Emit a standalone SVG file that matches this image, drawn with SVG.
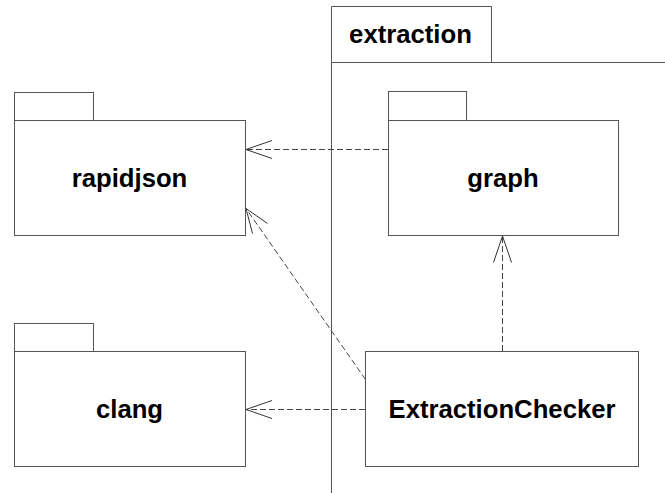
<svg xmlns="http://www.w3.org/2000/svg" width="665" height="493" viewBox="0 0 665 493">
<style>
.box{fill:#fff;stroke:#555;stroke-width:1}
.lbl{font-family:"Liberation Sans",Arial,sans-serif;font-weight:bold;font-size:25.7px;fill:#000;text-anchor:middle}
.dep{fill:none;stroke:#444;stroke-width:1;stroke-dasharray:6,3}
.head{fill:none;stroke:#333;stroke-width:1}
</style>
<rect width="665" height="493" fill="#fff"/>
<g id="extraction">
<path class="box" d="M331.5,493 V62.5 H666 M331.5,62.5 V6.5 H491.5 V62.5"/>
<text class="lbl" x="410.5" y="43">extraction</text>
</g>
<g id="rapidjson">
<rect class="box" x="14.5" y="92.5" width="79" height="28"/>
<rect class="box" x="14.5" y="120.5" width="231" height="115"/>
<text class="lbl" x="129.5" y="187">rapidjson</text>
</g>
<g id="clang">
<rect class="box" x="14.5" y="323.5" width="79" height="28"/>
<rect class="box" x="14.5" y="351.5" width="231" height="115"/>
<text class="lbl" x="129.5" y="418">clang</text>
</g>
<g id="graph">
<rect class="box" x="388.5" y="91.5" width="78" height="29"/>
<rect class="box" x="388.5" y="120.5" width="230" height="115"/>
<text class="lbl" x="503" y="187">graph</text>
</g>
<g id="ExtractionChecker">
<rect class="box" x="365.5" y="351.5" width="273" height="115"/>
<text class="lbl" x="502" y="418">ExtractionChecker</text>
</g>
<g id="connectors">
<line class="dep" x1="388" y1="149.5" x2="246" y2="149.5"/>
<polyline class="head" points="272,140.5 246,149.5 272,158.5"/>
<line class="dep" x1="365.5" y1="379.5" x2="246" y2="208.5"/>
<polyline class="head" points="267.5,223.5 246,208.5 252.5,233.5"/>
<line class="dep" x1="365" y1="409.5" x2="246" y2="409.5"/>
<polyline class="head" points="272,400.5 246,409.5 272,418.5"/>
<line class="dep" x1="502.5" y1="351" x2="502.5" y2="236"/>
<polyline class="head" points="493.5,262.5 502.5,236 511.5,262.5"/>
</g>
</svg>
